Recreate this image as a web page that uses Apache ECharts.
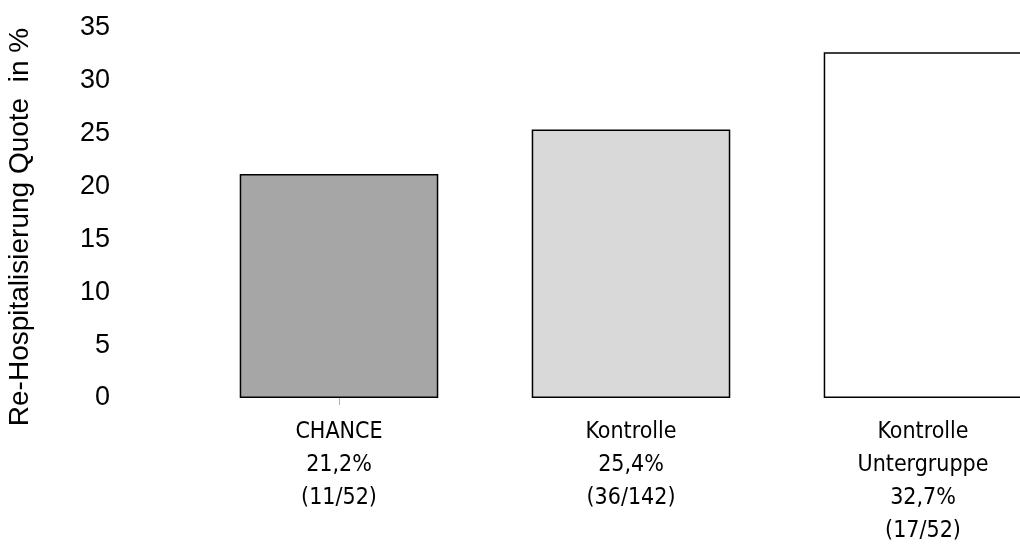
<!DOCTYPE html>
<html>
<head>
<meta charset="utf-8">
<script src="https://cdn.jsdelivr.net/npm/echarts@6/dist/echarts.min.js"></script>
<style>
  html, body { margin: 0; padding: 0; background: #ffffff; }
  #chart { width: 1020px; height: 556px; }
</style>
</head>
<body>
<div id="chart"></div>
<script>
// Re-hospitalisation rates per group
const categories = [
  'CHANCE\n21,2%\n(11/52)',
  'Kontrolle\n25,4%\n(36/142)',
  'Kontrolle\nUntergruppe\n32,7%\n(17/52)'
];
const rates = [21.2, 25.4, 32.7];
const barColors = ['#a6a6a6', '#d9d9d9', '#ffffff'];
const yTicks = { min: 0, max: 35, interval: 5 };
const yTitle = 'Re-Hospitalisierung Quote  in %';

const chart = echarts.init(document.getElementById('chart'), null, { renderer: 'canvas' });

chart.setOption({
  animation: false,
  backgroundColor: '#ffffff',
  // the plot runs past the right edge so the last bar is cut off
  grid: {
    left: 193, width: 876, top: 28, bottom: 158,
    containLabel: false,
    outerBoundsMode: 'none'
  },
  xAxis: {
    type: 'category',
    data: categories,
    axisLine: { show: false },
    axisTick: {
      show: true,
      alignWithLabel: true,
      length: 7,
      interval: function (index) { return index === 0; },
      lineStyle: { color: '#b0b0b0', width: 1 }
    },
    axisLabel: {
      interval: 0,
      margin: 18,
      color: '#000000',
      fontFamily: '"DejaVu Sans Condensed", "Liberation Sans Narrow", "Liberation Sans", Arial, sans-serif',
      fontSize: 23,
      lineHeight: 33,
      align: 'center'
    }
  },
  yAxis: {
    type: 'value',
    min: yTicks.min,
    max: yTicks.max,
    interval: yTicks.interval,
    name: yTitle,
    nameLocation: 'middle',
    nameGap: 159,
    nameRotate: 90,
    nameTextStyle: {
      color: '#000000',
      fontFamily: '"Liberation Sans", Arial, sans-serif',
      fontSize: 28,
      padding: [0, 28, 0, 0]
    },
    axisLine: { show: false },
    axisTick: { show: false },
    splitLine: { show: false },
    axisLabel: {
      margin: 83,
      color: '#000000',
      fontFamily: '"Liberation Sans", Arial, sans-serif',
      fontSize: 27
    }
  },
  series: [{
    type: 'bar',
    barCategoryGap: '32%',
    data: rates.map(function (v, i) {
      return {
        value: v,
        itemStyle: { color: barColors[i], borderColor: '#000000', borderWidth: 1.5 }
      };
    })
  }]
});
</script>
</body>
</html>
